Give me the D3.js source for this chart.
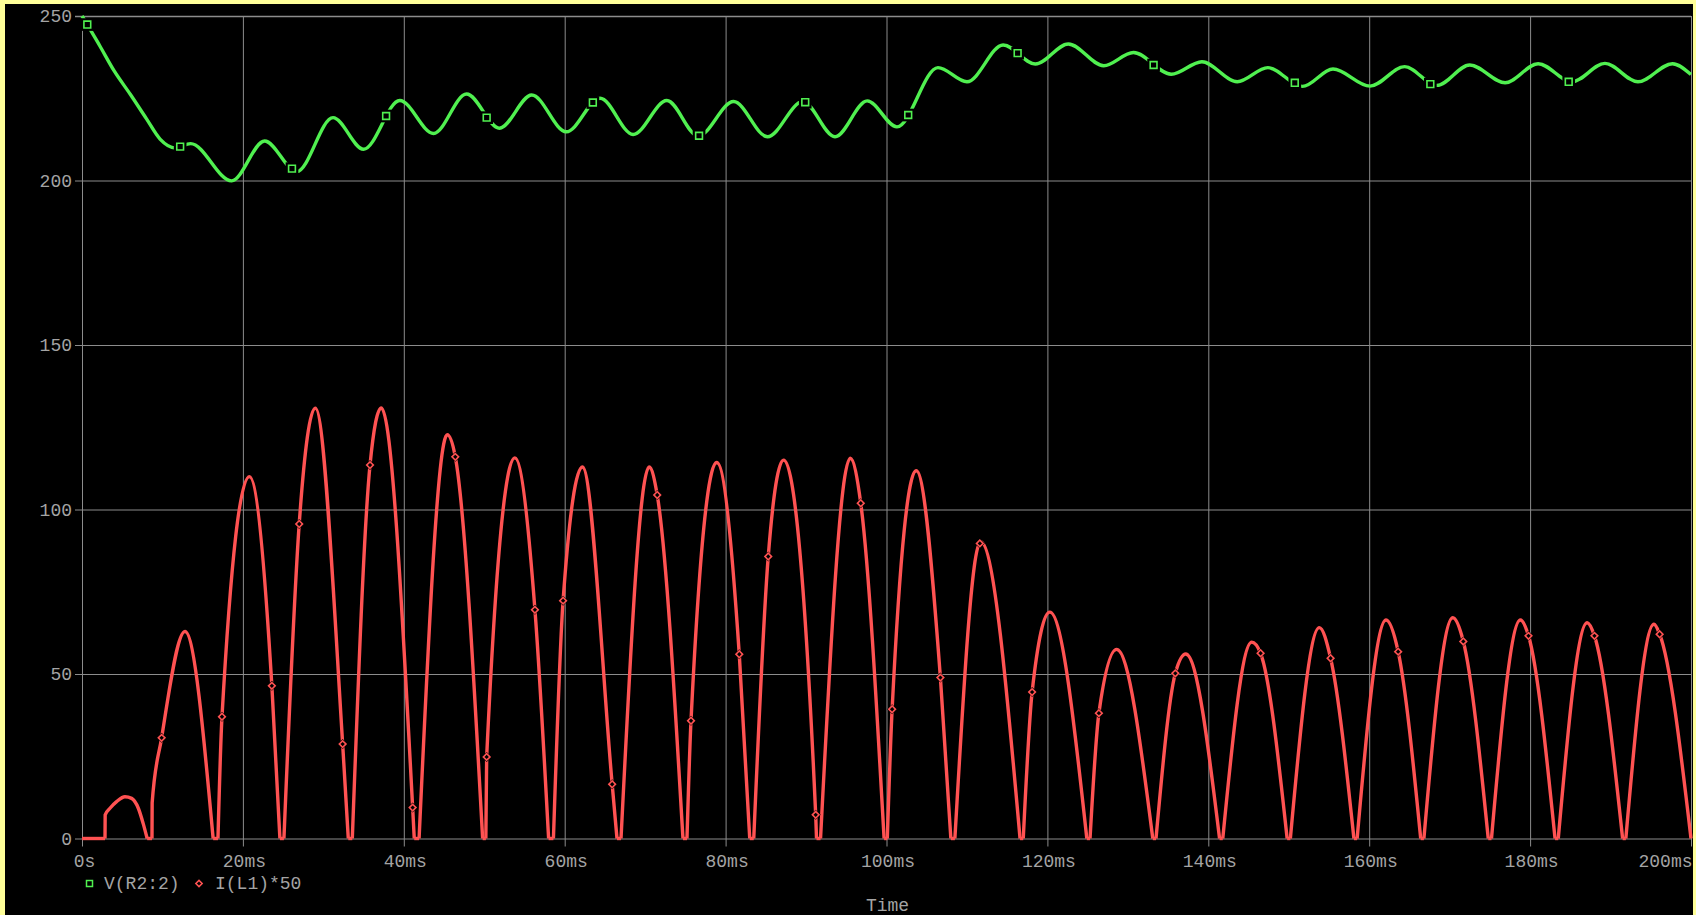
<!DOCTYPE html>
<html>
<head>
<meta charset="utf-8">
<script src="https://cdn.jsdelivr.net/npm/d3@7"></script>
<style>
  html, body { margin: 0; padding: 0; background: #000; overflow: hidden; }
</style>
</head>
<body>
<svg id="chart"></svg>
<script>
// axis ticks
const timeTicks = [0, 20, 40, 60, 80, 100, 120, 140, 160, 180, 200];
const timeLabels = ["0s", "20ms", "40ms", "60ms", "80ms", "100ms", "120ms", "140ms", "160ms", "180ms", "200ms"];
const voltTicks = [0, 50, 100, 150, 200, 250];
const legendNames = ["V(R2:2)", "I(L1)*50"];

// V(R2:2), [time ms, value] - start of the decay, then ripple turning points
const vR2 = [
  [0, 250], [0.66, 247.4], [2.24, 240.8], [4.0, 233.3], [6.0, 226.2], [8.0, 218.8], [9.7, 212.6],
  [11.6, 209.9], [13.5, 211.2], [18.6, 199.9], [22.7, 212.0], [26.7, 202.7], [31.2, 219.1], [35.0, 209.5],
  [39.5, 224.3], [43.7, 214.3], [47.8, 226.3], [51.9, 215.9], [55.9, 226.0], [60.2, 214.8], [64.4, 225.0],
  [68.5, 214.0], [72.7, 224.3], [76.6, 213.5], [81.0, 224.0], [85.2, 213.3], [89.6, 224.0], [93.6, 213.3],
  [97.6, 224.2], [101.3, 216.3], [106.4, 234.3], [110.0, 230.0], [114.5, 241.2], [118.5, 235.4], [122.6, 241.5],
  [127.0, 234.9], [130.7, 238.9], [135.4, 232.3], [139.2, 236.1], [143.6, 230.0], [147.4, 234.3], [151.7, 228.6],
  [155.5, 233.9], [160.1, 228.7], [164.4, 234.6], [168.4, 228.9], [172.5, 235.1], [176.9, 229.7], [181.0, 235.5],
  [185.2, 230.0], [189.3, 235.6], [193.4, 230.0], [197.7, 235.5], [200, 232.2]
];
const vR2Marks = [
  [0.66, 247.4], [12.2, 210.3], [26.1, 203.6], [37.8, 219.6], [50.3, 219.1], [63.5, 223.7], [76.7, 213.6],
  [89.9, 223.8], [102.7, 219.9], [116.3, 238.7], [133.2, 235.1], [150.75, 229.7], [167.6, 229.3], [184.8, 230.0]
];

// I(L1)*50, [time ms, value] - pulse feet, sample points and crests
const iL1 = [
  [0, 0], [2.86, 0],
  [2.88, 7.2], [3.48, 9.2], [4.3, 11.2], [5.34, 12.7], [6.17, 12.2], [7.0, 9.2], [7.6, 4.6], [8.1, 0],
  [8.7, 0], [8.72, 10.8], [9.9, 30.6], [12.8, 62.9], [16.3, 0],
  [16.9, 0], [17.4, 37], [20.8, 110], [23.6, 46.4], [24.6, 0],
  [25.1, 0], [27.0, 95.6], [29.0, 130.8], [32.4, 28.7], [33.1, 0],
  [33.6, 0], [35.8, 113.5], [37.2, 130.9], [41.1, 9.4], [41.3, 0],
  [41.9, 0], [45.4, 122.7], [46.4, 116], [49.8, 0],
  [50.2, 0], [50.3, 24.8], [53.8, 115.7], [56.3, 69.5], [58.0, 0],
  [58.6, 0], [59.8, 72.3], [62.2, 112.9], [65.9, 16.5], [66.5, 0],
  [67.0, 0], [70.5, 112.9], [71.5, 104.4], [74.7, 0],
  [75.2, 0], [75.7, 35.8], [78.9, 114.3], [81.7, 56], [83.0, 0],
  [83.5, 0], [85.3, 85.7], [87.2, 115], [91.2, 7.2], [91.3, 0],
  [91.8, 0], [95.5, 115.6], [96.8, 101.9], [99.7, 0],
  [100.1, 0], [100.7, 39.3], [103.7, 111.8], [106.7, 48.9], [108.0, 0],
  [108.5, 0], [111.7, 90.2], [116.6, 0],
  [117.0, 0], [118.1, 44.5], [120.3, 68.8], [124.9, 0],
  [125.3, 0], [126.4, 38.1], [128.6, 57.5], [133.1, 0],
  [133.5, 0], [135.9, 50.2], [137.2, 56.1], [141.4, 0],
  [141.8, 0], [145.4, 59.7], [146.5, 56.3], [149.8, 0],
  [150.2, 0], [153.8, 64.1], [155.2, 54.8], [158.1, 0],
  [158.5, 0], [162.1, 66.4], [163.6, 56.8], [166.4, 0],
  [166.8, 0], [170.4, 67.1], [171.7, 59.9], [174.8, 0],
  [175.2, 0], [178.8, 66.4], [179.8, 61.6], [183.1, 0],
  [183.5, 0], [187.1, 65.6], [188.0, 61.6], [191.5, 0],
  [191.9, 0], [195.4, 65.1], [196.1, 62.1], [200, 0]
];
const iL1Marks = [
  [9.9, 30.6], [17.4, 37], [23.6, 46.4], [27.0, 95.6], [32.4, 28.7], [35.8, 113.5], [41.1, 9.4], [46.4, 116],
  [50.3, 24.8], [56.3, 69.5], [59.8, 72.3], [65.9, 16.5], [71.5, 104.4], [75.7, 35.8], [81.7, 56], [85.3, 85.7],
  [91.2, 7.2], [96.8, 101.9], [100.7, 39.3], [106.7, 48.9], [111.6, 89.7], [118.1, 44.5], [126.4, 38.1],
  [135.9, 50.2], [146.5, 56.3], [155.2, 54.8], [163.6, 56.8], [171.7, 59.9], [179.8, 61.6], [188.0, 61.6],
  [196.1, 62.1]
];

const width = 1696, height = 915;
const green = "#50f050", red = "#ff5252", gridColor = "#8c8c8c", textColor = "#a4a4a4";
const font = "'Liberation Mono', 'DejaVu Sans Mono', monospace";

const svg = d3.select("#chart").attr("width", width).attr("height", height);

// yellow window frame, black plot window
svg.append("rect").attr("width", width).attr("height", height).attr("fill", "#ffff99");
svg.append("rect").attr("x", 5).attr("y", 4).attr("width", width - 8).attr("height", height - 4).attr("fill", "#000");

const x = d3.scaleLinear().domain([0, 200]).range([82, 1691]);
const y = d3.scaleLinear().domain([0, 250]).range([838.5, 16]);

// vertical grid + time labels
const gx = svg.append("g")
  .attr("transform", `translate(0,${y(0) + 8})`)
  .call(d3.axisBottom(x)
    .tickValues(timeTicks)
    .tickFormat((d, i) => timeLabels[i])
    .tickSize(-(y(0) + 8 - y(250)))
    .tickSizeOuter(0));
gx.select(".domain").remove();
gx.selectAll(".tick line").attr("stroke", gridColor).attr("stroke-width", 1);
gx.selectAll(".tick text")
  .attr("fill", textColor)
  .attr("font-family", font)
  .attr("font-size", 18)
  .attr("y", 20.5)
  .attr("dy", 0)
  .attr("x", (d, i) => (i === 0 ? 2 : 1))
  .attr("text-anchor", (d, i) => (i === timeTicks.length - 1 ? "end" : "middle"));

// horizontal grid + value labels
const gy = svg.append("g")
  .attr("transform", `translate(${x(0) - 7},0)`)
  .call(d3.axisLeft(y)
    .tickValues(voltTicks)
    .tickSize(-(x(200) - x(0) + 7))
    .tickPadding(3)
    .tickSizeOuter(0));
gy.select(".domain").remove();
gy.selectAll(".tick line").attr("stroke", gridColor).attr("stroke-width", d => (d === 250 ? 1.6 : 1));
gy.selectAll(".tick text")
  .attr("fill", textColor)
  .attr("font-family", font)
  .attr("font-size", 18);

const line = d3.line()
  .x(d => x(d[0]))
  .y(d => y(d[1]))
  .curve(d3.curveMonotoneX);

// split the current trace at its zero points so each pulse keeps a sharp foot
const pieces = [];
let cur = [iL1[0]];
for (let i = 1; i < iL1.length; i++) {
  cur.push(iL1[i]);
  if (iL1[i][1] === 0) {
    pieces.push(cur);
    cur = [iL1[i]];
  }
}
if (cur.length > 1) pieces.push(cur);

svg.append("g")
  .selectAll("path")
  .data(pieces)
  .join("path")
  .attr("d", line)
  .attr("fill", "none")
  .attr("stroke", red)
  .attr("stroke-width", 3.4)
  .attr("stroke-linejoin", "round");

svg.append("path")
  .attr("d", line(vR2))
  .attr("fill", "none")
  .attr("stroke", green)
  .attr("stroke-width", 3.4)
  .attr("stroke-linejoin", "round");

// markers on the traces
const gm = svg.append("g");
gm.selectAll("path.halo").data(vR2Marks).join("path")
  .attr("class", "halo")
  .attr("transform", d => `translate(${x(d[0])},${y(d[1])})`)
  .attr("d", d3.symbol(d3.symbolSquare, 160)())
  .attr("fill", "#000");
gm.selectAll("path.mark").data(vR2Marks).join("path")
  .attr("class", "mark")
  .attr("transform", d => `translate(${x(d[0])},${y(d[1])})`)
  .attr("d", d3.symbol(d3.symbolSquare, 46)())
  .attr("fill", "#000")
  .attr("stroke", green)
  .attr("stroke-width", 1.6);

const gr = svg.append("g");
gr.selectAll("path.halo").data(iL1Marks).join("path")
  .attr("class", "halo")
  .attr("transform", d => `translate(${x(d[0])},${y(d[1])}) rotate(45)`)
  .attr("d", d3.symbol(d3.symbolSquare, 50)())
  .attr("fill", "#000");
gr.selectAll("path.mark").data(iL1Marks).join("path")
  .attr("class", "mark")
  .attr("transform", d => `translate(${x(d[0])},${y(d[1])}) rotate(45)`)
  .attr("d", d3.symbol(d3.symbolSquare, 22)())
  .attr("fill", "#000")
  .attr("stroke", red)
  .attr("stroke-width", 1.6);

// legend
const legend = svg.append("g").attr("font-family", font).attr("font-size", 18).attr("fill", textColor);
legend.append("path")
  .attr("transform", "translate(89.5,883.5)")
  .attr("d", d3.symbol(d3.symbolSquare, 36)())
  .attr("fill", "none")
  .attr("stroke", green)
  .attr("stroke-width", 1.5);
legend.append("text").attr("x", 104).attr("y", 889).text(legendNames[0]);
legend.append("path")
  .attr("transform", "translate(199,883.5) rotate(45)")
  .attr("d", d3.symbol(d3.symbolSquare, 20)())
  .attr("fill", "none")
  .attr("stroke", red)
  .attr("stroke-width", 1.5);
legend.append("text").attr("x", 215).attr("y", 889).text(legendNames[1]);

svg.append("text")
  .attr("x", (x(0) + x(200)) / 2 + 1)
  .attr("y", 911)
  .attr("text-anchor", "middle")
  .attr("font-family", font)
  .attr("font-size", 18)
  .attr("fill", textColor)
  .text("Time");
</script>
</body>
</html>
